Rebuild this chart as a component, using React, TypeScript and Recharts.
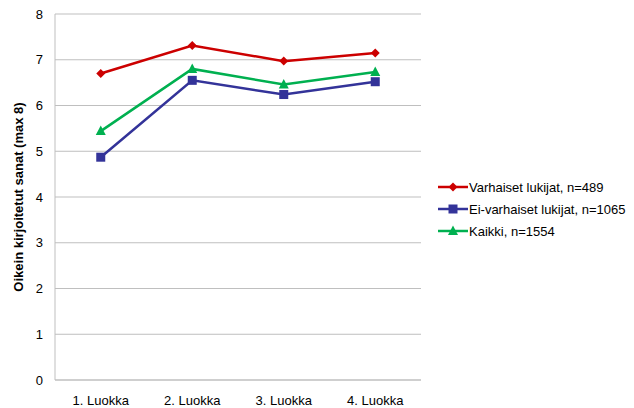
import { CartesianGrid, Line, LineChart, XAxis, YAxis } from "recharts";

const CATEGORIES = ["1. Luokka", "2. Luokka", "3. Luokka", "4. Luokka"];
const VARHAISET = [6.7, 7.31, 6.97, 7.15];
const EI_VARHAISET = [4.87, 6.55, 6.24, 6.52];
const KAIKKI = [5.44, 6.8, 6.46, 6.73];
const Y_TICKS = [0, 1, 2, 3, 4, 5, 6, 7, 8];

const FONT = "'Liberation Sans', Arial, sans-serif";
const GRID = "#bfbfbf";

const SERIES = [
  { key: "varhaiset", name: "Varhaiset lukijat, n=489", color: "#cc0000", shape: "diamond" },
  { key: "ei", name: "Ei-varhaiset lukijat, n=1065", color: "#333399", shape: "square" },
  { key: "kaikki", name: "Kaikki, n=1554", color: "#00b050", shape: "triangle" },
];

const data = CATEGORIES.map((c, i) => ({
  cat: c,
  varhaiset: VARHAISET[i],
  ei: EI_VARHAISET[i],
  kaikki: KAIKKI[i],
}));

function Marker({ cx, cy, shape, color }: { cx: number; cy: number; shape: string; color: string }) {
  if (shape === "square") return <rect x={cx - 4.5} y={cy - 4.5} width={9} height={9} fill={color} />;
  if (shape === "triangle")
    return <polygon points={`${cx},${cy - 5.5} ${cx + 5},${cy + 4} ${cx - 5},${cy + 4}`} fill={color} />;
  return <polygon points={`${cx},${cy - 4.5} ${cx + 4.5},${cy} ${cx},${cy + 4.5} ${cx - 4.5},${cy}`} fill={color} />;
}

function LegendBox() {
  return (
    <div style={{ position: "absolute", left: 438, top: 176, fontFamily: FONT, fontSize: 13, color: "#000" }}>
      {SERIES.map((s) => (
        <div key={s.key} style={{ display: "flex", alignItems: "center", height: 22, whiteSpace: "nowrap" }}>
          <svg width={30} height={12} style={{ marginRight: 1 }}>
            <line x1={0} y1={6} x2={30} y2={6} stroke={s.color} strokeWidth={2.5} />
            <Marker cx={15} cy={6} shape={s.shape} color={s.color} />
          </svg>
          <span>{s.name}</span>
        </div>
      ))}
    </div>
  );
}

export default function App() {
  return (
    <div style={{ position: "absolute", left: 0, top: 0, width: 634, height: 408, background: "#fff" }}>
      <LineChart width={634} height={408} data={data} margin={{ top: 14, right: 213, left: 0, bottom: 0 }}>
        <CartesianGrid stroke={GRID} vertical={false} />
        <XAxis
          dataKey="cat"
          height={28}
          interval={0}
          padding={{ left: 45.75, right: 45.75 }}
          tickLine={false}
          axisLine={{ stroke: GRID }}
          tick={{ fontFamily: FONT, fontSize: 13, fill: "#000" }}
          tickMargin={10}
        />
        <YAxis
          domain={[0, 8]}
          ticks={Y_TICKS}
          width={55}
          tickLine={false}
          axisLine={{ stroke: GRID }}
          tick={{ fontFamily: FONT, fontSize: 13, fill: "#000" }}
          tickMargin={6}
          label={(props: any) => {
            const vb = props.viewBox;
            const cy = vb.y + vb.height / 2;
            return (
              <text
                x={18}
                y={cy}
                transform={`rotate(-90, 18, ${cy})`}
                textAnchor="middle"
                dominantBaseline="central"
                fontFamily={FONT}
                fontSize={13}
                fontWeight="bold"
                fill="#000"
              >
                Oikein kirjoitetut sanat (max 8)
              </text>
            );
          }}
        />
        {SERIES.map((s) => (
          <Line
            key={s.key}
            dataKey={s.key}
            name={s.name}
            stroke={s.color}
            strokeWidth={2.5}
            isAnimationActive={false}
            dot={(p: any) => <Marker key={p.index} cx={p.cx} cy={p.cy} shape={s.shape} color={s.color} />}
            activeDot={false}
          />
        ))}
      </LineChart>
      <LegendBox />
    </div>
  );
}
